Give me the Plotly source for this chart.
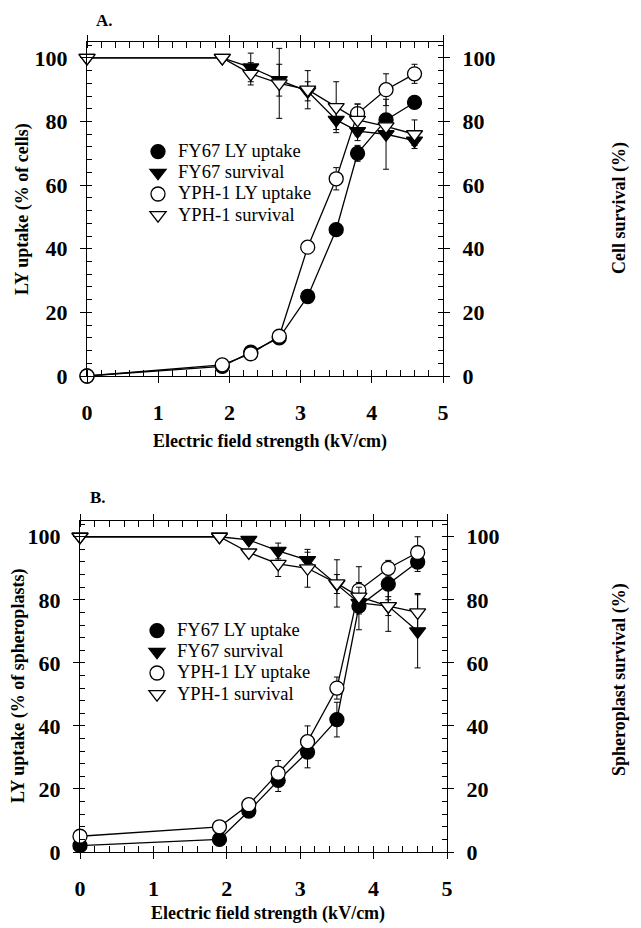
import plotly.graph_objects as go

# ---------------- data ----------------
field = [0, 1.9, 2.3, 2.7, 3.1, 3.5, 3.8, 4.2, 4.6]

# Panel A (cells)
a_fy67_uptake = [0, 3, 7.5, 12, 25, 46, 70, 80.5, 86]
a_fy67_uptake_err = [0, 0, 1, 1, 1, 1.5, 2.5, 2, 1]
a_yph_uptake = [0, 3.5, 7, 12.5, 40.5, 62, 82.5, 90, 95]
a_yph_uptake_err = [0, 0, 1, 1, 1, 3.5, 3, 5, 3]
a_fy67_surv = [100, 100, 97, 93, 89.5, 80.5, 77, 76, 74]
a_fy67_surv_err = [0, 0, 4.5, 5, 3, 3, 3, 11, 1.5]
a_yph_surv = [100, 100, 95, 92, 90, 84.5, 80.5, 78.5, 76]
a_yph_surv_err = [0, 0, 3.5, 11, 6, 8, 5, 3, 4.5]

# Panel B (spheroplasts)
b_fy67_uptake = [2, 4, 13, 22.7, 31.7, 42, 78, 85, 92]
b_fy67_uptake_err = [0, 0, 1, 3.5, 5, 5.5, 7.5, 5, 3]
b_yph_uptake = [5, 8, 15, 25, 35, 52, 83, 90, 95]
b_yph_uptake_err = [0, 0, 1, 4, 5, 3.5, 7.5, 2.5, 5]
b_fy67_surv = [100, 100, 99, 95.5, 92.6, 85, 79, 78, 70]
b_fy67_surv_err = [0, 0, 0, 2.5, 2.5, 3, 3, 3, 11.6]
b_yph_surv = [100, 100, 95, 91.4, 90, 85.2, 81, 78, 76]
b_yph_surv_err = [0, 0, 0, 4, 6, 7.5, 3, 8, 6]

names = ["FY67 LY uptake", "FY67 survival", "YPH-1 LY uptake", "YPH-1 survival"]
x_ticks = [0, 1, 2, 3, 4, 5]
y_ticks = [0, 20, 40, 60, 80, 100]

SERIF = "Liberation Serif"
W, H = 641, 928

fig = go.Figure()


def add_series(y, err, name, symbol, fill, xa, ya, legend):
    # connecting line (not in legend)
    fig.add_trace(go.Scatter(
        x=field, y=y, mode="lines", xaxis=xa, yaxis=ya, showlegend=False,
        hoverinfo="skip", cliponaxis=False,
        line=dict(color="black", width=1.3),
    ))
    # symbols with error bars (legend shows symbol only)
    fig.add_trace(go.Scatter(
        x=field, y=y, mode="markers", xaxis=xa, yaxis=ya,
        name="<span style='font-size:18.5px'>%s</span>" % name,
        legend=legend, showlegend=True, cliponaxis=False,
        marker=dict(symbol=symbol, size=14, color=fill,
                    line=dict(color="black", width=1.3)),
        error_y=dict(type="data", array=err, visible=True,
                     color="black", thickness=1, width=3),
    ))


# Panel A
add_series(a_fy67_uptake, a_fy67_uptake_err, names[0], "circle", "black", "x", "y", "legend")
add_series(a_fy67_surv, a_fy67_surv_err, names[1], "triangle-down", "black", "x", "y2", "legend")
add_series(a_yph_uptake, a_yph_uptake_err, names[2], "circle", "white", "x", "y", "legend")
add_series(a_yph_surv, a_yph_surv_err, names[3], "triangle-down", "white", "x", "y2", "legend")
# Panel B
add_series(b_fy67_uptake, b_fy67_uptake_err, names[0], "circle", "black", "x2", "y3", "legend2")
add_series(b_fy67_surv, b_fy67_surv_err, names[1], "triangle-down", "black", "x2", "y4", "legend2")
add_series(b_yph_uptake, b_yph_uptake_err, names[2], "circle", "white", "x2", "y3", "legend2")
add_series(b_yph_surv, b_yph_surv_err, names[3], "triangle-down", "white", "x2", "y4", "legend2")

tickfont = dict(family=SERIF, size=22, color="black", weight="bold")


def xaxis(domain, anchor):
    return dict(domain=domain, anchor=anchor, range=[0, 5], tickvals=x_ticks,
                ticks="outside", ticklen=6, tickwidth=1, tickcolor="black",
                minor=dict(dtick=0.2, tick0=0, ticks="inside", ticklen=5,
                           tickwidth=1, tickcolor="black", showgrid=False),
                showline=True, linecolor="black", linewidth=1.2, mirror="allticks",
                showgrid=False, zeroline=False, tickfont=tickfont,
                ticklabelstandoff=10, automargin=False)


def yaxis(domain, anchor, side, overlaying=None):
    d = dict(domain=domain, anchor=anchor, side=side, range=[0, 105], tickvals=y_ticks,
             ticks="outside", ticklen=6, tickwidth=1, tickcolor="black",
             minor=dict(dtick=4, tick0=0, ticks="inside", ticklen=5,
                        tickwidth=1, tickcolor="black", showgrid=False),
             showline=True, linecolor="black", linewidth=1.2,
             showgrid=False, zeroline=False, tickfont=tickfont,
             ticklabelstandoff=8, automargin=False)
    if overlaying:
        d["overlaying"] = overlaying
    return d


ax_A = [87 / W, 443 / W]
ay_A = [1 - 376 / H, 1 - 42 / H]
ax_B = [80 / W, 447 / W]
ay_B = [1 - 852 / H, 1 - 521 / H]

legfont = dict(family=SERIF, size=14, color="black")

fig.update_layout(
    width=W, height=H,
    margin=dict(l=0, r=0, t=0, b=0),
    paper_bgcolor="white", plot_bgcolor="white",
    xaxis=xaxis(ax_A, "y"),
    yaxis=yaxis(ay_A, "x", "left"),
    yaxis2=yaxis(ay_A, "x", "right", "y"),
    xaxis2=xaxis(ax_B, "y3"),
    yaxis3=yaxis(ay_B, "x2", "left"),
    yaxis4=yaxis(ay_B, "x2", "right", "y3"),
    legend=dict(x=138 / W, y=1 - 136 / H, xanchor="left", yanchor="top",
                bgcolor="rgba(0,0,0,0)", font=legfont, tracegroupgap=0,
                itemsizing="trace", itemwidth=30),
    legend2=dict(x=137 / W, y=1 - 615 / H, xanchor="left", yanchor="top",
                 bgcolor="rgba(0,0,0,0)", font=legfont, tracegroupgap=0,
                 itemsizing="trace", itemwidth=30),
    showlegend=True,
)

titlefont = dict(family=SERIF, size=18, color="black", weight="bold")


def ann(text, x, y, angle=0, font=titlefont):
    fig.add_annotation(text=text, x=x / W, y=1 - y / H, xref="paper", yref="paper",
                       showarrow=False, textangle=angle, font=font,
                       xanchor="center", yanchor="middle")


ann("Electric field strength (kV/cm)", 270, 442)
ann("LY uptake (% of cells)", 22, 209, -90)
ann("Cell survival (%)", 619, 208, -90)
ann("Electric field strength (kV/cm)", 268, 913)
ann("LY uptake (% of spheroplasts)", 18, 686, -90)
ann("Spheroplast survival (%)", 619, 680, -90)
ann("A.", 104, 20, font=dict(family=SERIF, size=17, color="black", weight="bold"))
ann("B.", 98, 497, font=dict(family=SERIF, size=17, color="black", weight="bold"))

fig.write_html("out.html",
               config={"displayModeBar": False},
               post_script="document.body.style.margin='0';"
                           "document.body.style.overflow='hidden';")
